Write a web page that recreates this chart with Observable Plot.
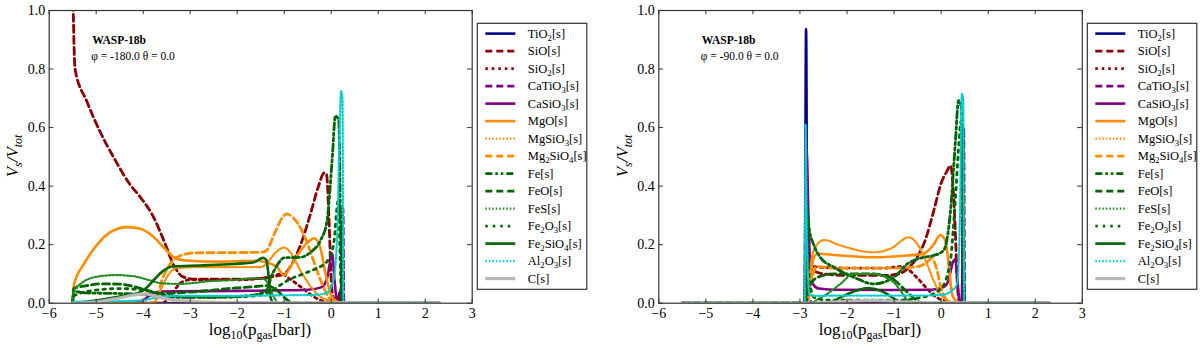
<!DOCTYPE html>
<html><head><meta charset="utf-8">
<script src="https://cdn.jsdelivr.net/npm/d3@7"></script>
<script src="https://cdn.jsdelivr.net/npm/@observablehq/plot@0.6"></script>
<style>
body{margin:0;background:#fff;}
#fig{position:relative;width:1200px;height:348px;overflow:hidden;font-family:"Liberation Serif",serif;background:#fff;}
#fig > svg{position:absolute;top:0;}
</style></head><body><div id="fig"></div>
<script>
// ---------- categories & styles ----------
const species = ["TiO2[s]","SiO[s]","SiO2[s]","CaTiO3[s]","CaSiO3[s]","MgO[s]","MgSiO3[s]","Mg2SiO4[s]","Fe[s]","FeO[s]","FeS[s]","Fe2O3[s]","Fe2SiO4[s]","Al2O3[s]","C[s]"];
const colors  = ["#00008b","#8b0000","#8b0000","#800080","#800080","#ff8c00","#ff8c00","#ff8c00","#006400","#006400","#228b22","#006400","#006400","#00ced1","#b8b8b8"];
const dashes  = [null,"7,4","2.5,4","7,4",null,null,"1.5,2","7,4","7,3,2.5,3,2.5,3","7,4","1.5,2","2.5,5",null,"1.5,2",null];
const widths  = [2.6,2.8,2.8,2.8,2.6,2.6,2.2,2.8,2.8,2.8,2.2,2.8,2.6,2.2,3.2];

const xTicks = [-6,-5,-4,-3,-2,-1,0,1,2,3];
const yTicks = [0,0.2,0.4,0.6,0.8,1.0];
const panelTitles = ["WASP-18b","WASP-18b"];
const panelAngles = ["φ = -180.0 θ = 0.0","φ = -90.0 θ = 0.0"];

// ---------- left panel (phi = -180) : [log10 p, Vs/Vtot] ----------
const tio2Left = [[-5.5,0],[0.12,0],[0.19,0.04],[0.24,0],[2.3,0]];
const sioLeft = [[-5.5,1.1],[-5.45,0.80],[-5.2,0.69],[-4.9,0.58],[-4.6,0.49],[-4.3,0.41],[-4.05,0.36],[-3.8,0.30],[-3.55,0.21],[-3.35,0.13],[-3.15,0.09],[-2.9,0.082],[-2.0,0.082],[-1.5,0.085],[-1.2,0.092],[-1.0,0.10],[-0.85,0.13],[-0.65,0.20],[-0.45,0.30],[-0.27,0.40],[-0.15,0.445],[-0.1,0.44],[-0.05,0.30],[0.0,0.08],[0.04,0.02],[0.12,0],[0.2,0.03],[0.24,0],[2.3,0]];
const sio2Left = [[-5.5,0],[-3.6,0],[-3.4,0.03],[-3.2,0.07],[-3.0,0.08],[-2.0,0.08],[-1.5,0.085],[-1.2,0.095],[-1.05,0.1],[-0.9,0.085],[-0.6,0.05],[-0.35,0.02],[-0.1,0.005],[0.15,0.02],[0.22,0],[2.3,0]];
const catio3Left = [[-5.5,0],[0.18,0],[0.22,0.1],[0.25,0.33],[0.27,0],[2.3,0]];
const casio3Left = [[-5.5,0],[-4.2,0],[-4.0,0.01],[-3.8,0.033],[-3.6,0.04],[-2.0,0.042],[-1.0,0.044],[-0.5,0.046],[-0.2,0.055],[-0.08,0.09],[0.02,0.17],[0.07,0.08],[0.12,0.01],[0.18,0],[2.3,0]];
const mgoLeft = [[-5.5,0],[-5.47,0.066],[-5.26,0.134],[-4.98,0.2],[-4.7,0.243],[-4.34,0.26],[-4.06,0.254],[-3.77,0.225],[-3.56,0.19],[-3.35,0.157],[-3.1,0.146],[-2.4,0.142],[-1.6,0.145],[-1.4,0.14],[-1.15,0.123],[-1.0,0.095],[-0.87,0.123],[-0.65,0.18],[-0.45,0.215],[-0.37,0.222],[-0.25,0.2],[-0.12,0.10],[-0.01,0.03],[0.13,0.005],[0.3,0],[2.3,0]];
const mgsio3Left = [[-5.5,0],[-3.8,0],[-3.65,0.04],[-3.45,0.1],[-3.3,0.12],[-2.8,0.123],[-1.5,0.123],[-1.35,0.14],[-1.2,0.17],[-1.0,0.19],[-0.85,0.17],[-0.65,0.11],[-0.45,0.06],[-0.25,0.025],[-0.05,0.008],[0.2,0],[2.3,0]];
const mg2sio4Left = [[-5.5,0],[-3.75,0],[-3.6,0.08],[-3.42,0.135],[-3.2,0.163],[-2.9,0.172],[-2.0,0.173],[-1.5,0.174],[-1.38,0.18],[-1.2,0.24],[-1.05,0.29],[-0.95,0.305],[-0.8,0.29],[-0.6,0.24],[-0.45,0.18],[-0.3,0.11],[-0.15,0.05],[0.0,0.01],[0.15,0],[2.3,0]];
const feLeft = [[-5.5,0],[-5.48,0.04],[-5.2,0.035],[-4.5,0.033],[-4.0,0.03],[-3.5,0.02],[-2.5,0.02],[-1.8,0.025],[-1.4,0.04],[-1.25,0.1],[-1.15,0.13],[-1.0,0.155],[-0.65,0.157],[-0.44,0.174],[-0.23,0.214],[-0.09,0.28],[0.02,0.49],[0.09,0.64],[0.16,0.625],[0.2,0.26],[0.23,0],[2.3,0]];
const feoLeft = [[-5.5,0],[-5.48,0.05],[-5.2,0.06],[-4.9,0.066],[-4.5,0.065],[-4.2,0.057],[-3.9,0.043],[-3.6,0.033],[-3.3,0.035],[-2.8,0.04],[-2.2,0.05],[-1.6,0.057],[-1.4,0.06],[-1.2,0.05],[-1.0,0.02],[-0.8,0],[2.3,0]];
const fesLeft = [[-5.5,0],[-5.48,0.04],[-5.3,0.07],[-5.0,0.09],[-4.6,0.096],[-4.2,0.092],[-3.9,0.08],[-3.6,0.068],[-3.2,0.066],[-2.6,0.075],[-2.0,0.08],[-1.6,0.085],[-1.42,0.082],[-1.3,0.05],[-1.2,0.015],[-1.1,0],[2.3,0]];
const fe2o3Left = [[-5.5,0],[-5.48,0.025],[-5.0,0.045],[-4.5,0.05],[-4.0,0.045],[-3.6,0.03],[-3.0,0.02],[-2.0,0.022],[-1.5,0.028],[-1.3,0.04],[-1.1,0.06],[-0.9,0.08],[-0.6,0.1],[-0.3,0.12],[-0.1,0.14],[0.05,0.2],[0.15,0.35],[0.2,0.1],[0.23,0],[2.3,0]];
const fe2sio4Left = [[-5.5,0],[-4.9,0.012],[-4.4,0.025],[-4.1,0.035],[-3.95,0.05],[-3.77,0.08],[-3.56,0.112],[-3.35,0.126],[-2.8,0.129],[-2.07,0.134],[-1.64,0.14],[-1.45,0.155],[-1.38,0.148],[-1.33,0.09],[-1.29,0.02],[-1.22,0],[2.3,0]];
const al2o3Left = [[-5.5,0.005],[-4.5,0.007],[-4.0,0.01],[-3.7,0.02],[-3.3,0.025],[-2.0,0.025],[-1.0,0.027],[-0.4,0.028],[-0.1,0.035],[0.05,0.08],[0.13,0.25],[0.18,0.6],[0.21,0.725],[0.24,0.7],[0.26,0],[2.3,0]];
const cLeft = [[-5.5,0],[-5.0,0.004],[-4.6,0.015],[-4.2,0.028],[-3.95,0.032],[-3.7,0.022],[-3.3,0.01],[-2.6,0.004],[-1.5,0.002],[0.5,0.001],[2.3,0.001]];

// ---------- right panel (phi = -90) ----------
const tio2Right = [[-5.5,0],[-2.9,0],[-2.87,0.937],[-2.84,0],[0.44,0],[0.47,0.3],[0.49,0],[2.3,0]];
const sioRight = [[-5.5,0],[-2.9,0],[-2.86,0.1],[-2.8,0.12],[-2.7,0.11],[-2.5,0.1],[-2.0,0.095],[-1.2,0.095],[-0.9,0.1],[-0.7,0.12],[-0.5,0.16],[-0.35,0.21],[-0.15,0.32],[0.0,0.41],[0.12,0.45],[0.2,0.47],[0.26,0.38],[0.3,0.25],[0.34,0.08],[0.38,0.01],[0.45,0],[2.3,0]];
const sio2Right = [[-5.5,0],[-2.9,0],[-2.86,0.08],[-2.75,0.125],[-2.5,0.122],[-2.0,0.12],[-1.2,0.12],[-0.85,0.125],[-0.7,0.115],[-0.5,0.085],[-0.3,0.05],[-0.1,0.02],[0.1,0.008],[0.3,0],[2.3,0]];
const catio3Right = [[-5.5,0],[-2.9,0],[-2.87,0.6],[-2.84,0.02],[-2.7,0],[0.44,0],[0.48,0.6],[0.5,0],[2.3,0]];
const casio3Right = [[-5.5,0],[-2.89,0],[-2.86,0.53],[-2.82,0.3],[-2.78,0.12],[-2.72,0.065],[-2.6,0.05],[-2.3,0.046],[-1.0,0.045],[-0.2,0.046],[0.05,0.055],[0.15,0.075],[0.25,0.14],[0.3,0.15],[0.34,0.09],[0.38,0.02],[0.42,0],[2.3,0]];
const mgoRight = [[-5.5,0],[-2.85,0],[-2.8,0.05],[-2.74,0.134],[-2.64,0.169],[-2.14,0.163],[-1.43,0.157],[-0.72,0.163],[-0.37,0.169],[-0.16,0.2],[-0.02,0.233],[0.09,0.214],[0.16,0.134],[0.23,0.032],[0.3,0.01],[0.4,0],[2.3,0]];
const mgsio3Right = [[-5.5,0],[-2.85,0],[-2.78,0.12],[-2.71,0.18],[-2.49,0.216],[-2.14,0.197],[-1.43,0.174],[-1.08,0.186],[-0.69,0.225],[-0.51,0.203],[-0.3,0.134],[-0.16,0.077],[-0.02,0.032],[0.13,0.01],[0.3,0],[2.3,0]];
const mg2sio4Right = [[-5.5,0],[-2.85,0],[-2.75,0.08],[-2.65,0.125],[-2.3,0.12],[-1.0,0.12],[-0.5,0.125],[-0.3,0.14],[-0.2,0.155],[-0.1,0.12],[0.0,0.05],[0.1,0.015],[0.25,0],[2.3,0]];
const feRight = [[-5.5,0],[-2.89,0],[-2.86,0.33],[-2.8,0.25],[-2.71,0.2],[-2.57,0.157],[-2.28,0.123],[-1.86,0.089],[-1.43,0.066],[-1.0,0.089],[-0.72,0.134],[-0.37,0.157],[-0.16,0.163],[0.05,0.18],[0.2,0.317],[0.3,0.544],[0.37,0.692],[0.43,0.67],[0.47,0.2],[0.49,0],[2.3,0]];
const feoRight = [[-5.5,0],[-2.88,0],[-2.8,0.06],[-2.6,0.09],[-2.3,0.1],[-1.5,0.1],[-1.2,0.095],[-1.0,0.08],[-0.8,0.05],[-0.6,0.02],[-0.4,0],[2.3,0]];
const fesRight = [[-5.5,0],[-2.8,0],[-2.6,0.015],[-2.42,0.032],[-2.14,0.066],[-1.86,0.1],[-1.43,0.1],[-1.2,0.09],[-1.0,0.07],[-0.85,0.04],[-0.72,0.01],[-0.6,0],[2.3,0]];
const fe2o3Right = [[-5.5,0],[-2.89,0],[-2.86,0.25],[-2.8,0.08],[-2.7,0.02],[-2.4,0.01],[-1.0,0.01],[-0.4,0.02],[0.0,0.05],[0.2,0.15],[0.3,0.35],[0.38,0.55],[0.42,0.62],[0.46,0.3],[0.48,0],[2.3,0]];
const fe2sio4Right = [[-5.5,0],[-2.42,0],[-2.14,0.02],[-1.79,0.043],[-1.57,0.052],[-1.29,0.043],[-1.0,0.015],[-0.9,0],[2.3,0]];
const al2o3Right = [[-5.5,0],[-2.9,0],[-2.88,0.61],[-2.85,0.2],[-2.8,0.03],[-2.7,0.025],[-2.14,0.026],[-0.5,0.026],[0.0,0.028],[0.2,0.04],[0.34,0.066],[0.4,0.3],[0.44,0.715],[0.47,0.7],[0.49,0],[2.3,0]];
const cRight = [[-5.5,0],[-2.9,0],[-2.5,0.002],[-2.0,0.006],[-1.5,0.01],[-1.0,0.006],[-0.5,0.002],[0.5,0.001],[2.3,0.001]];

const leftSeries = [tio2Left,sioLeft,sio2Left,catio3Left,casio3Left,mgoLeft,mgsio3Left,mg2sio4Left,feLeft,feoLeft,fesLeft,fe2o3Left,fe2sio4Left,al2o3Left,cLeft];
const rightSeries = [tio2Right,sioRight,sio2Right,catio3Right,casio3Right,mgoRight,mgsio3Right,mg2sio4Right,feRight,feoRight,fesRight,fe2o3Right,fe2sio4Right,al2o3Right,cRight];

// ---------- drawing ----------
const fig = document.getElementById("fig");
const FONT = "'Liberation Serif', 'DejaVu Serif', serif";

function panel(series, title, angles, ml, mr) {
  const marks = [];
  series.forEach((s, i) => {
    marks.push(Plot.line(s, {x: d => d[0], y: d => d[1], stroke: colors[i], strokeWidth: widths[i],
      strokeDasharray: dashes[i] || undefined, curve: "monotone-x", clip: true}));
  });
  // inward ticks on all four sides
  marks.push(Plot.ruleX(xTicks, {y1: 0, y2: 0.014, stroke: "#333"}));
  marks.push(Plot.ruleX(xTicks, {y1: 1, y2: 0.986, stroke: "#333"}));
  marks.push(Plot.ruleY(yTicks, {x1: -6, x2: -5.9, stroke: "#333"}));
  marks.push(Plot.ruleY(yTicks, {x1: 3, x2: 2.9, stroke: "#333"}));
  marks.push(Plot.frame({stroke: "#333", strokeWidth: 1.2}));
  marks.push(Plot.axisX(xTicks, {tickSize: 0, tickPadding: 5, fontSize: 14, label: null}));
  marks.push(Plot.axisY(yTicks, {tickSize: 0, tickPadding: 4, fontSize: 14, tickFormat: d3.format(".1f"), label: null}));
  marks.push(Plot.text([title], {text: d => d, frameAnchor: "top-left", dx: 43, dy: 25, textAnchor: "start", fontSize: 11.5, fontWeight: "bold"}));
  marks.push(Plot.text([angles], {text: d => d, frameAnchor: "top-left", dx: 42, dy: 41, textAnchor: "start", fontSize: 11.5, fill: "#000"}));
  return Plot.plot({
    width: 480, height: 348,
    marginLeft: ml, marginRight: mr, marginTop: 10, marginBottom: 45.3,
    x: {domain: [-6, 3], axis: null},
    y: {domain: [0, 1], axis: null},
    style: {fontFamily: FONT, fontSize: "14px", color: "#000", background: "transparent"},
    marks
  });
}

const p1 = panel(leftSeries, panelTitles[0], panelAngles[0], 48.7, 8.3);
p1.style.left = "0px";
fig.appendChild(p1);
const p2 = panel(rightSeries, panelTitles[1], panelAngles[1], 48.3, 8.2);
p2.style.left = "610px";
fig.appendChild(p2);

// ---------- overlay: axis titles and legends ----------
const ov = d3.select(fig).append("svg").attr("width", 1200).attr("height", 348)
  .style("left", "0px").style("pointer-events", "none").attr("font-family", FONT);

function richText(sel, parts, size) {
  parts.forEach(([t, sub], k) => {
    const ts = sel.append("tspan").text(t);
    if (sub) ts.attr("font-size", size * 0.7).attr("dy", size * 0.25);
    else if (k > 0 && parts[k - 1][1]) ts.attr("dy", -size * 0.25);
  });
}
function chemParts(label) {
  return label.split(/(\d+)/).filter(s => s.length).map(s => [s, /^\d+$/.test(s)]);
}

[[260, 12], [870, 622]].forEach(([xc, yl]) => {
  const xl = ov.append("text").attr("x", xc).attr("y", 335).attr("text-anchor", "middle").attr("font-size", 17);
  richText(xl, [["log", 0], ["10", 1], ["(p", 0], ["gas", 1], ["[bar])", 0]], 17);
  const ylab = ov.append("text").attr("transform", `translate(${yl + 6},156) rotate(-90)`)
    .attr("text-anchor", "middle").attr("font-size", 17).attr("font-style", "italic");
  richText(ylab, [["V", 0], ["s", 1], ["/V", 0], ["tot", 1]], 17);
});

function legend(x0) {
  const g = ov.append("g").attr("transform", `translate(${x0},23.3)`);
  g.append("rect").attr("width", 109.5).attr("height", 266).attr("fill", "#fff").attr("stroke", "#333").attr("stroke-width", 1.2);
  species.forEach((s, i) => {
    const y = 10.3 + i * 17.5;
    g.append("line").attr("x1", 8).attr("x2", 38).attr("y1", y).attr("y2", y)
      .attr("stroke", colors[i]).attr("stroke-width", widths[i])
      .attr("stroke-dasharray", dashes[i] || null);
    const t = g.append("text").attr("x", 50.5).attr("y", y + 4).attr("font-size", 12.5);
    richText(t, chemParts(s), 12.5);
  });
}
legend(477.3);
legend(1087.3);
</script></body></html>
